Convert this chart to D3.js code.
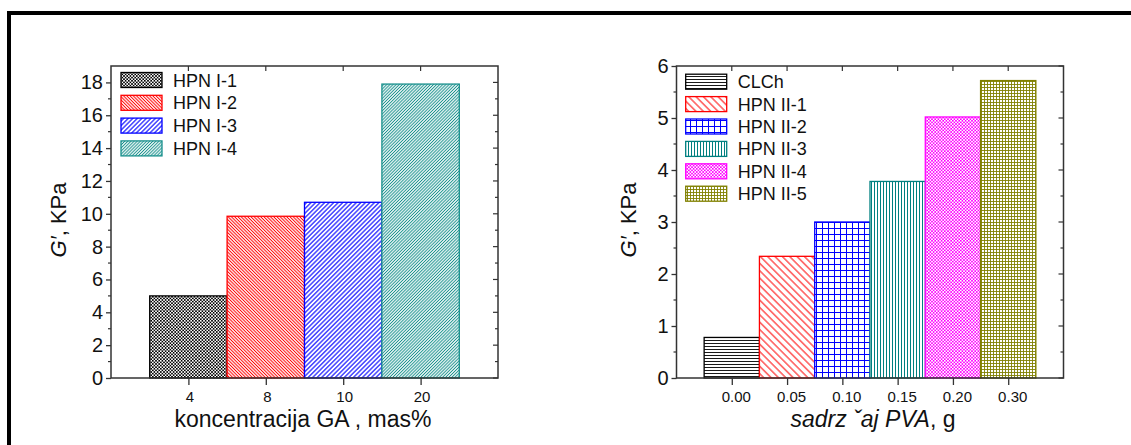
<!DOCTYPE html>
<html><head><meta charset="utf-8">
<script src="https://cdn.jsdelivr.net/npm/d3@7"></script>
<style>body{margin:0;background:#fff}svg{display:block}text{font-family:Arial,"Liberation Sans",sans-serif;fill:#111}</style>
</head><body>
<svg id="c" width="1131" height="445"></svg>
<script>
// ---- data ----
const leftCategories = ["4", "8", "10", "20"];
const leftValues = [5.0, 9.85, 10.7, 17.9];
const leftSeries = ["HPN I-1", "HPN I-2", "HPN I-3", "HPN I-4"];
const leftYTicks = [0, 2, 4, 6, 8, 10, 12, 14, 16, 18];
const leftXTitle = "koncentracija GA , mas%";

const rightCategories = ["0.00", "0.05", "0.10", "0.15", "0.20", "0.30"];
const rightValues = [0.78, 2.34, 3.0, 3.78, 5.02, 5.72];
const rightSeries = ["CLCh", "HPN II-1", "HPN II-2", "HPN II-3", "HPN II-4", "HPN II-5"];
const rightYTicks = [0, 1, 2, 3, 4, 5, 6];

const svg = d3.select("#c");
const defs = svg.append("defs");

// ---- patterns ----
function linePat(id, color, s, angle, sw) {
  const p = defs.append("pattern").attr("id", id).attr("patternUnits", "userSpaceOnUse")
    .attr("width", s).attr("height", s).attr("patternTransform", `rotate(${angle})`);
  p.append("rect").attr("width", s).attr("height", s).attr("fill", "#fff");
  p.append("line").attr("x1", s / 2).attr("x2", s / 2).attr("y1", 0).attr("y2", s)
    .attr("stroke", color).attr("stroke-width", sw);
}
function gridPat(id, color, s, sw) {
  const p = defs.append("pattern").attr("id", id).attr("patternUnits", "userSpaceOnUse")
    .attr("width", s).attr("height", s);
  p.append("rect").attr("width", s).attr("height", s).attr("fill", "#fff");
  p.append("line").attr("x1", 0.5).attr("x2", 0.5).attr("y1", 0).attr("y2", s).attr("stroke", color).attr("stroke-width", sw);
  p.append("line").attr("y1", 0.5).attr("y2", 0.5).attr("x1", 0).attr("x2", s).attr("stroke", color).attr("stroke-width", sw);
}
function checkPat(id, color, c) {
  const p = defs.append("pattern").attr("id", id).attr("patternUnits", "userSpaceOnUse")
    .attr("width", 2 * c).attr("height", 2 * c);
  p.append("rect").attr("width", 2 * c).attr("height", 2 * c).attr("fill", "#fff");
  p.append("rect").attr("width", c).attr("height", c).attr("fill", color);
  p.append("rect").attr("x", c).attr("y", c).attr("width", c).attr("height", c).attr("fill", color);
}
checkPat("pI1", "#000", 1.6);
linePat("pI2", "#ff0000", 2.3, -45, 1);
linePat("pI3", "#0000ff", 3.2, 45, 1.1);
linePat("pI4", "#18908c", 2.2, 45, 1);
linePat("pII0", "#000", 3, 90, 0.9);
linePat("pII1", "#ff0000", 5.2, -45, 1);
gridPat("pII2", "#0000ff", 6, 1);
linePat("pII3", "#008080", 3, 0, 1);
checkPat("pII4", "#ff00ff", 1.6);
gridPat("pII5", "#808000", 3, 0.9);

const leftFills = ["pI1", "pI2", "pI3", "pI4"];
const leftStrokes = ["#000", "#ff0000", "#0000ff", "#18908c"];
const rightFills = ["pII0", "pII1", "pII2", "pII3", "pII4", "pII5"];
const rightStrokes = ["#000", "#ff0000", "#0000ff", "#008080", "#ff00ff", "#808000"];

// ---- outer border ----
svg.append("path").attr("d", "M9,460 L9,13 L1140,13").attr("fill", "none").attr("stroke", "#000").attr("stroke-width", 4);

function panel(o) {
  const g = svg.append("g");
  const x = d3.scaleLinear().domain([-1, o.cats.length]).range([o.x0, o.x1]);
  const y = d3.scaleLinear().domain([0, o.ymax]).range([o.y1, o.y0]);
  const ax = "#333";

  // bars
  g.selectAll("rect.bar").data(o.vals).join("rect").attr("class", "bar")
    .attr("x", (d, i) => x(i - 0.5)).attr("width", (d, i) => x(i + 0.5) - x(i - 0.5))
    .attr("y", d => y(d)).attr("height", d => y(0) - y(d))
    .attr("fill", (d, i) => `url(#${o.fills[i]})`)
    .attr("stroke", (d, i) => o.strokes[i]).attr("stroke-width", 1.3);

  // frame
  g.append("rect").attr("x", o.x0).attr("y", o.y0).attr("width", o.x1 - o.x0).attr("height", o.y1 - o.y0)
    .attr("fill", "none").attr("stroke", ax).attr("stroke-width", 1.5);

  // left axis
  const left = g.append("g").attr("transform", `translate(${o.x0},0)`)
    .call(d3.axisLeft(y).tickValues(o.yticks).tickSize(5).tickPadding(3).tickFormat(d3.format("d")));
  left.select(".domain").remove();
  left.selectAll("line").attr("stroke", ax).attr("stroke-width", 1.3);
  left.selectAll("text").attr("font-size", 20).style("font-family", "Arial, 'Liberation Sans', sans-serif").attr("fill", "#111");
  // minor ticks left & right, major right
  const minors = d3.range(o.yticks.length - 1).map(i => (o.yticks[i] + o.yticks[i + 1]) / 2);
  if (o.minorTop) minors.push((o.yticks[o.yticks.length - 1] + o.ymax) / 2 > o.ymax ? o.ymax : o.yticks[o.yticks.length - 1] + (o.yticks[1] - o.yticks[0]) / 2);
  g.selectAll("line.minl").data(minors.filter(v => v <= o.ymax)).join("line").attr("class", "minl")
    .attr("x1", o.x0 - 3).attr("x2", o.x0).attr("y1", d => y(d)).attr("y2", d => y(d)).attr("stroke", ax).attr("stroke-width", 1.2);
  g.selectAll("line.rmaj").data(o.yticks).join("line").attr("class", "rmaj")
    .attr("x1", o.x1 - 5).attr("x2", o.x1).attr("y1", d => y(d)).attr("y2", d => y(d)).attr("stroke", ax).attr("stroke-width", 1.2);
  g.selectAll("line.rmin").data(minors.filter(v => v <= o.ymax)).join("line").attr("class", "rmin")
    .attr("x1", o.x1 - 3).attr("x2", o.x1).attr("y1", d => y(d)).attr("y2", d => y(d)).attr("stroke", ax).attr("stroke-width", 1.2);

  // bottom axis
  const bottom = g.append("g").attr("transform", `translate(0,${o.y1})`)
    .call(d3.axisBottom(x).tickValues(d3.range(o.cats.length)).tickSize(7).tickPadding(6).tickFormat(i => o.cats[i]));
  bottom.select(".domain").remove();
  bottom.selectAll("line").attr("stroke", ax).attr("stroke-width", 1.3);
  bottom.selectAll("text").attr("font-size", 15).attr("dx", o.labelDx).style("font-family", "Arial, 'Liberation Sans', sans-serif").attr("fill", "#111");
  // top ticks
  g.selectAll("line.top").data(d3.range(o.cats.length)).join("line").attr("class", "top")
    .attr("x1", d => x(d)).attr("x2", d => x(d)).attr("y1", o.y0).attr("y2", o.y0 + 5).attr("stroke", ax).attr("stroke-width", 1.2);

  // y title
  const yt = g.append("text").attr("transform", `translate(${o.ytx},${(o.y0 + o.y1) / 2 - 2}) rotate(-90)`)
    .attr("text-anchor", "middle").attr("font-size", 22);
  yt.append("tspan").attr("font-style", "italic").text("G′");
  yt.append("tspan").text(", KPa");

  // x title
  const xt = g.append("text").attr("x", o.xtx).attr("y", 427).attr("text-anchor", "middle").attr("font-size", 23);
  o.xtitle(xt);

  // legend
  const lg = g.append("g");
  o.series.forEach((s, i) => {
    const cy = o.legY + i * o.legDy;
    lg.append("rect").attr("x", o.legX).attr("y", cy - 7.5).attr("width", 41).attr("height", 15)
      .attr("fill", `url(#${o.fills[i]})`).attr("stroke", o.strokes[i]).attr("stroke-width", 1.3);
    lg.append("text").attr("x", o.legX + 52).attr("y", cy + 6.5).attr("font-size", 18).text(s);
  });
}

panel({
  cats: leftCategories, vals: leftValues, series: leftSeries, fills: leftFills, strokes: leftStrokes,
  x0: 111, x1: 498, y0: 66, y1: 378, ymax: 19, yticks: leftYTicks, minorTop: false, labelDx: 1,
  ytx: 66, xtx: 303, legX: 121, legY: 80, legDy: 22.8,
  xtitle: t => t.text(leftXTitle)
});
panel({
  cats: rightCategories, vals: rightValues, series: rightSeries, fills: rightFills, strokes: rightStrokes,
  x0: 676.5, x1: 1063.5, y0: 66, y1: 378, ymax: 6, yticks: rightYTicks, minorTop: false, labelDx: 4,
  ytx: 636, xtx: 873, legX: 685.7, legY: 81.7, legDy: 22.4,
  xtitle: t => { t.append("tspan").attr("font-style", "italic").text("sadrz ˇaj PVA"); t.append("tspan").text(", g"); }
});
</script>
</body></html>
